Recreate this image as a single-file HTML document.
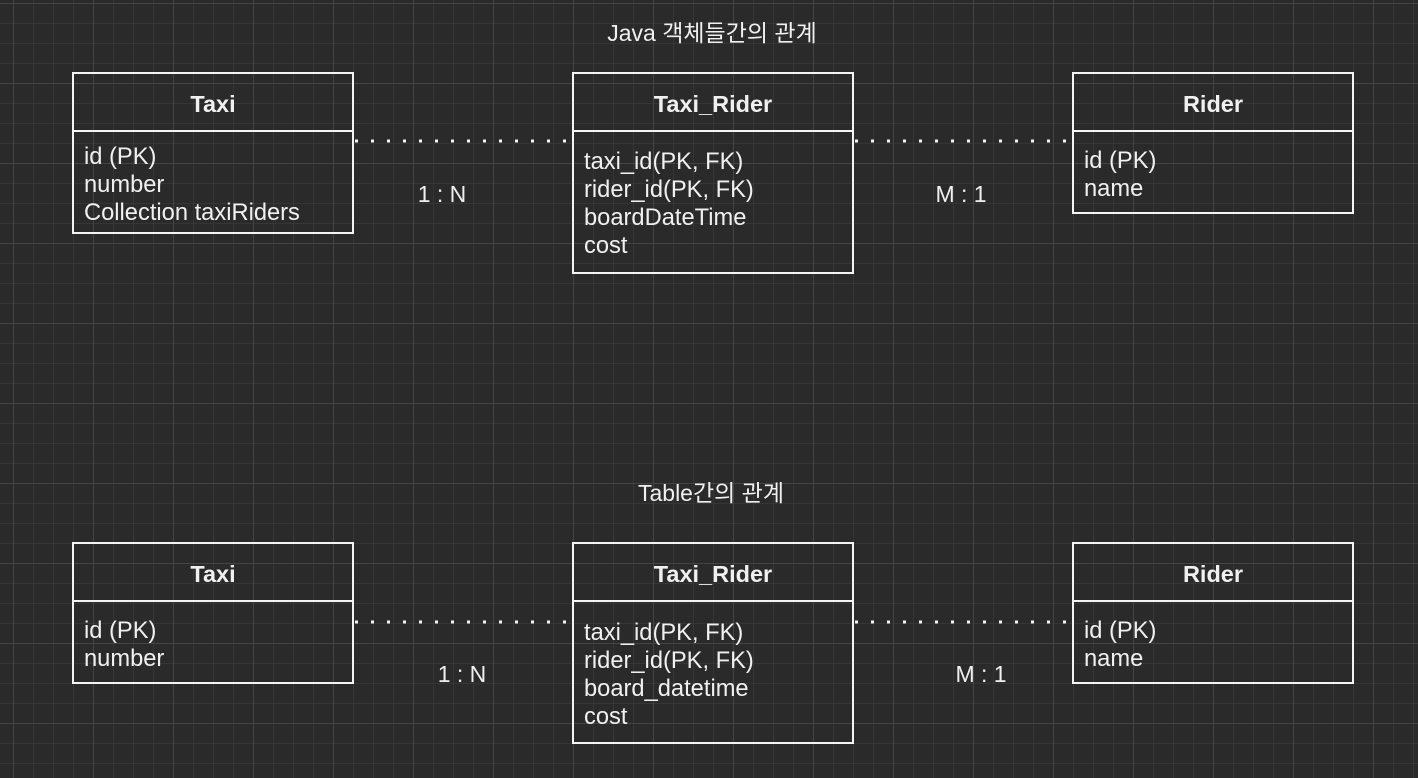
<!DOCTYPE html>
<html><head><meta charset="utf-8"><style>
html,body{margin:0;padding:0;background:#2a2a2a;}
svg{display:block;}
text{font-family:"Liberation Sans","Noto Sans CJK KR",sans-serif;fill:#f0f0f0;}
.h{font-weight:bold;font-size:23.5px;}
.r{font-size:23.7px;}
.l{font-size:23px;}
</style></head><body>
<svg width="1418" height="778" xmlns="http://www.w3.org/2000/svg">
<defs>
<pattern id="minor" x="13" y="3" width="20" height="20" patternUnits="userSpaceOnUse">
<path d="M0 0V20M0 0H20" stroke="#393939" stroke-width="1.5" fill="none"/>
</pattern>
<pattern id="major" x="13" y="3" width="80" height="80" patternUnits="userSpaceOnUse">
<path d="M0 0V80M0 0H80" stroke="#494949" stroke-width="1.5" fill="none"/>
</pattern>
</defs>
<rect width="1418" height="778" fill="#2a2a2a"/>
<rect width="1418" height="778" fill="url(#minor)"/>
<rect width="1418" height="778" fill="url(#major)"/>

<g stroke="#f4f4f4" stroke-width="2" fill="none">
<rect x="73" y="73" width="280" height="160"/><line x1="73" y1="131" x2="353" y2="131"/>
<rect x="573" y="73" width="280" height="200"/><line x1="573" y1="131" x2="853" y2="131"/>
<rect x="1073" y="73" width="280" height="140"/><line x1="1073" y1="131" x2="1353" y2="131"/>
<rect x="73" y="543" width="280" height="140"/><line x1="73" y1="601" x2="353" y2="601"/>
<rect x="573" y="543" width="280" height="200"/><line x1="573" y1="601" x2="853" y2="601"/>
<rect x="1073" y="543" width="280" height="140"/><line x1="1073" y1="601" x2="1353" y2="601"/>
</g>
<g stroke="#f4f4f4" stroke-width="3" stroke-dasharray="3 13" fill="none">
<line x1="355" y1="141" x2="572" y2="141"/>
<line x1="855" y1="141" x2="1072" y2="141"/>
<line x1="355" y1="622" x2="572" y2="622"/>
<line x1="855" y1="622" x2="1072" y2="622"/>
</g>

<text x="712" y="41" text-anchor="middle" class="l">Java 객체들간의 관계</text>
<text x="711" y="501" text-anchor="middle" class="l">Table간의 관계</text>

<text x="213" y="112" text-anchor="middle" class="h">Taxi</text>
<text x="713" y="112" text-anchor="middle" class="h">Taxi_Rider</text>
<text x="1213" y="112" text-anchor="middle" class="h">Rider</text>
<text class="r"><tspan x="84" y="164">id (PK)</tspan><tspan x="84" y="192">number</tspan><tspan x="84" y="220">Collection taxiRiders</tspan></text>
<text class="r"><tspan x="584" y="169">taxi_id(PK, FK)</tspan><tspan x="584" y="197">rider_id(PK, FK)</tspan><tspan x="584" y="225">boardDateTime</tspan><tspan x="584" y="253">cost</tspan></text>
<text class="r"><tspan x="1084" y="168">id (PK)</tspan><tspan x="1084" y="196">name</tspan></text>
<text x="442" y="202" text-anchor="middle" class="l">1 : N</text>
<text x="961" y="202" text-anchor="middle" class="l">M : 1</text>

<text x="213" y="582" text-anchor="middle" class="h">Taxi</text>
<text x="713" y="582" text-anchor="middle" class="h">Taxi_Rider</text>
<text x="1213" y="582" text-anchor="middle" class="h">Rider</text>
<text class="r"><tspan x="84" y="638">id (PK)</tspan><tspan x="84" y="666">number</tspan></text>
<text class="r"><tspan x="584" y="640">taxi_id(PK, FK)</tspan><tspan x="584" y="668">rider_id(PK, FK)</tspan><tspan x="584" y="696">board_datetime</tspan><tspan x="584" y="724">cost</tspan></text>
<text class="r"><tspan x="1084" y="638">id (PK)</tspan><tspan x="1084" y="666">name</tspan></text>
<text x="462" y="682" text-anchor="middle" class="l">1 : N</text>
<text x="981" y="682" text-anchor="middle" class="l">M : 1</text>
</svg>
</body></html>
